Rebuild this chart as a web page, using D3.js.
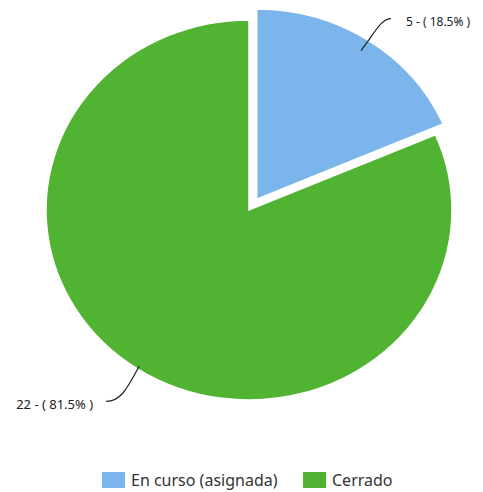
<!DOCTYPE html>
<html>
<head>
<meta charset="utf-8">
<script src="https://cdn.jsdelivr.net/npm/d3@7"></script>
<style>
  html, body { margin: 0; padding: 0; background: #fff; }
  svg { display: block; }
  text { font-family: "Noto Sans", sans-serif; }
</style>
</head>
<body>
<svg id="chart" width="483" height="492"></svg>
<script>
const categories = ["En curso (asignada)", "Cerrado"];
const values = [5, 22];
const colors = ["#7cb5ec", "#50b432"];
const labelTexts = ["5 - ( 18.5% )", "22 - ( 81.5% )"];

const svg = d3.select("#chart");
const cx = 249, cy = 210, rx = 203, ry = 190;
const sy = ry / rx;
const explode = 14;

const pie = d3.pie().sort(null).value(d => d)(values);
const arc = d3.arc().innerRadius(0).outerRadius(rx);

const g = svg.append("g").attr("transform", `translate(${cx},${cy}) scale(1,${sy})`);

pie.forEach((p, i) => {
  const mid = (p.startAngle + p.endAngle) / 2;
  const off = i === 0 ? explode : 0;
  const ox = off * Math.sin(mid), oy = -off * Math.cos(mid);
  g.append("path")
    .attr("d", arc(p))
    .attr("transform", `translate(${ox},${oy})`)
    .attr("fill", colors[i])
    .attr("stroke", "#fff")
    .attr("stroke-width", 1.5);
});

// connectors + labels
pie.forEach((p, i) => {
  const mid = (p.startAngle + p.endAngle) / 2;
  const off = i === 0 ? explode : 0;
  const rr = i === 0 ? rx * 0.935 : rx * 0.985;
  const sx = cx + (off + rr) * Math.sin(mid);
  const syy = cy - (off + rr) * Math.cos(mid) * sy;
  const dir = Math.sin(mid) >= 0 ? 1 : -1;
  let path, tx, ty, anchor;
  if (dir > 0) {
    const ex = sx + 30, ey = syy - 32;
    path = `M${sx},${syy} C${sx + 14},${syy - 18} ${sx + 20},${ey} ${ex},${ey}`;
    tx = ex + 15; ty = ey + 7; anchor = "start";
  } else {
    const ex = sx - 33, ey = syy + 35;
    path = `M${sx},${syy} C${sx - 12},${syy + 22} ${sx - 18},${ey} ${ex},${ey}`;
    tx = ex - 13; ty = ey + 8; anchor = "end";
  }
  svg.append("path").attr("d", path).attr("fill", "none")
    .attr("stroke", "#222").attr("stroke-width", 1.2);
  svg.append("text").attr("x", tx).attr("y", ty)
    .attr("text-anchor", anchor).attr("font-size", i === 0 ? 12 : 13).attr("fill", "#222")
    .text(labelTexts[i]);
});

// legend
const legendX = [102, 303];
const lg = svg.append("g");
categories.forEach((c, i) => {
  lg.append("rect").attr("x", legendX[i]).attr("y", 472).attr("width", 23).attr("height", 16)
    .attr("fill", colors[i]);
  lg.append("text").attr("x", legendX[i] + 29).attr("y", 486)
    .attr("font-size", 16).attr("fill", "#333").text(c);
});
</script>
</body>
</html>
